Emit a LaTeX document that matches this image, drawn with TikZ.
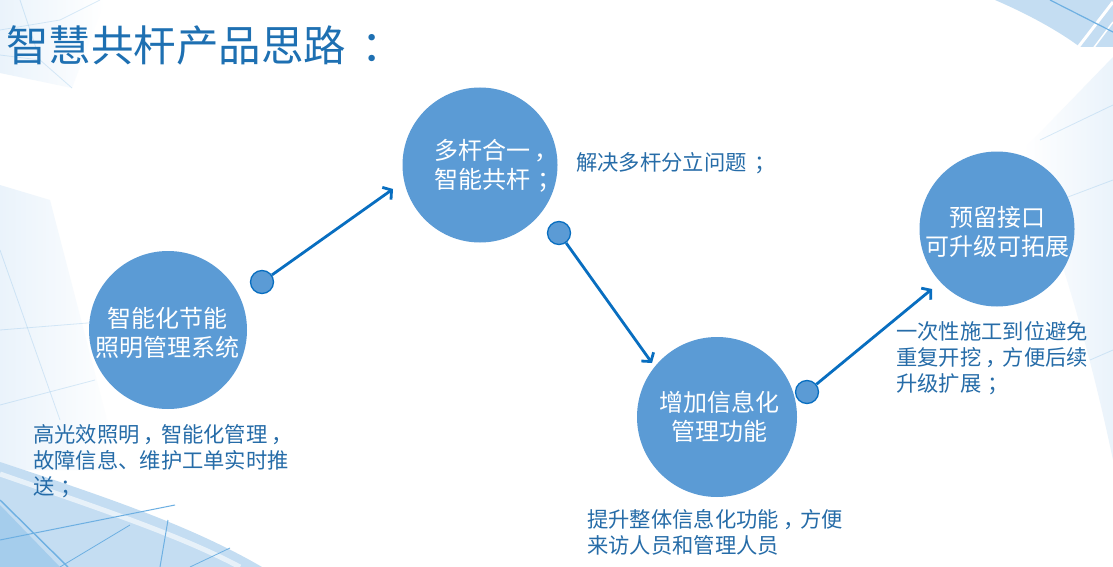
\documentclass[tikz,border=0pt]{standalone}
\usepackage{fontspec}
\newfontfamily\cjk{Noto Sans CJK SC}
\usetikzlibrary{arrows.meta}
\definecolor{circfill}{RGB}{91,155,213}
\definecolor{arrowc}{RGB}{8,110,192}
\definecolor{txtc}{RGB}{38,108,168}
\definecolor{titlec}{RGB}{30,112,178}
\definecolor{bgA}{RGB}{196,221,242}
\definecolor{bgB}{RGB}{234,243,251}
\definecolor{bgLine}{RGB}{110,176,226}
\newcommand{\pshift}[2]{\kern#1em#2\kern-#1em}
\begin{document}
\begin{tikzpicture}[x=1pt,y=-1pt,
  bigcirc/.style={circle,fill=circfill,minimum size=#1,inner sep=0pt},
  ctext/.style={text=white,font=\cjk\fontsize{24}{29}\selectfont,align=center,inner sep=0pt},
  desc/.style={text=txtc,font=\cjk\fontsize{21.3}{26}\selectfont,align=left,anchor=west,inner sep=0pt},
  smalldot/.style={circle,fill=circfill,draw=arrowc,line width=1.3pt,minimum size=23pt,inner sep=0pt},
  conn/.style={draw=arrowc,line width=2.8pt,-{Straight Barb[length=6pt,width=15pt]}},
  faint/.style={draw=bgLine,opacity=0.25,line width=0.8pt}]
\useasboundingbox (0,0) rectangle (1113,567);
\fill[white] (0,0) rectangle (1113,567);
% ---- background decorations ----
% top-left
\shade[left color=bgB,right color=white] (0,0) -- (105,0) -- (72,88) -- (0,73) -- cycle;
\draw[faint] (0,30) -- (60,20) -- (100,0);
\draw[faint] (20,0) -- (40,60) -- (72,88);
\draw[faint] (0,55) -- (40,60);
% left side faint
\shade[left color=bgB,right color=white] (0,185) -- (50,200) -- (120,470) -- (0,470) -- cycle;
\draw[faint] (0,330) -- (100,322);
\draw[faint] (0,405) -- (95,380);
\draw[faint] (0,250) -- (60,420);
% bottom-left arc region
\fill[bgA] (0,462) .. controls (100,495) and (190,525) .. (262,567) -- (0,567) -- cycle;
\draw[white,line width=5pt,opacity=0.6] (0,474) .. controls (95,507) and (180,535) .. (240,567);
\fill[bgLine,opacity=0.35] (0,505) -- (60,567) -- (0,567) -- cycle;
\draw[bgLine,line width=1.4pt] (0,500) -- (68,567);
\draw[bgLine,line width=1pt] (0,540) -- (175,505);
\draw[bgLine,line width=1pt] (168,520) -- (160,567);
\draw[bgLine,line width=0.8pt] (60,567) -- (130,525);
\draw[bgLine,line width=0.8pt] (190,567) -- (230,548);
% top-right band
\fill[bgA] (995,0) .. controls (1030,15) and (1060,32) .. (1080,47) -- (1113,47) -- (1113,0) -- cycle;
\draw[white,line width=3pt] (1076,50) -- (1113,2);
\draw[white,line width=1.5pt] (1092,50) -- (1113,22);
\draw[bgLine,line width=1.2pt] (1050,0) -- (1113,32);
% right side faint
\shade[left color=white,right color=bgB] (1113,57) -- (1023,150) .. controls (1060,250) and (1090,350) .. (1113,460) -- cycle;
\draw[faint] (1040,140) -- (1113,105);
\draw[faint] (1060,200) -- (1113,180);
\draw[faint] (1090,360) -- (1113,350);
% ---- title ----
\node[text=titlec,font=\cjk\fontsize{42.5}{50}\selectfont,anchor=west,inner sep=0pt] (title) at (6,45) {智慧共杆产品思路\pshift{0.35}{：}};
% ---- circles ----
\node[bigcirc=158pt] (c1) at (168,330) {};
\node[bigcirc=155pt] (c2) at (480,165) {};
\node[bigcirc=160pt] (c3) at (717,417) {};
\node[bigcirc=155pt] (c4) at (997,229) {};
\node[ctext] (t1) at (167,332.5) {智能化节能\\照明管理系统};
\node[ctext,align=left,anchor=west] (t2) at (434,166) {多杆合一\pshift{0.2}{，}\\智能共杆\pshift{0.3}{；}};
\node[ctext] (t3) at (719,417) {增加信息化\\管理功能};
\node[ctext] (t4) at (997,231.5) {预留接口\\可升级可拓展};
% ---- descriptions ----
\node[desc] (d1txt) at (33,461) {高光效照明\pshift{0.2}{，}智能化管理\pshift{0.2}{，}\\故障信息、维护工单实时推\\送\pshift{0.3}{；}};
\node[desc] (d2txt) at (576,163) {解决多杆分立问题\pshift{0.35}{；}};
\node[desc] (d3txt) at (587,532.5) {提升整体信息化功能\pshift{0.2}{，}方便\\来访人员和管理人员};
\node[desc] (d4txt) at (896,358) {一次性施工到位避免\\重复开挖\pshift{0.2}{，}方便后续\\升级扩展\pshift{0.3}{；}};
% ---- connectors ----
\node[smalldot] (p1) at (262,282) {};
\node[smalldot] (p2) at (559,233) {};
\node[smalldot] (p3) at (807,392) {};
\coordinate (e1) at (393,189);
\coordinate (e2) at (652,363);
\coordinate (e3) at (932,289);
\draw[conn] (p1) -- (e1);
\draw[conn] (p2) -- (e2);
\draw[conn] (p3) -- (e3);
\end{tikzpicture}
\end{document}
